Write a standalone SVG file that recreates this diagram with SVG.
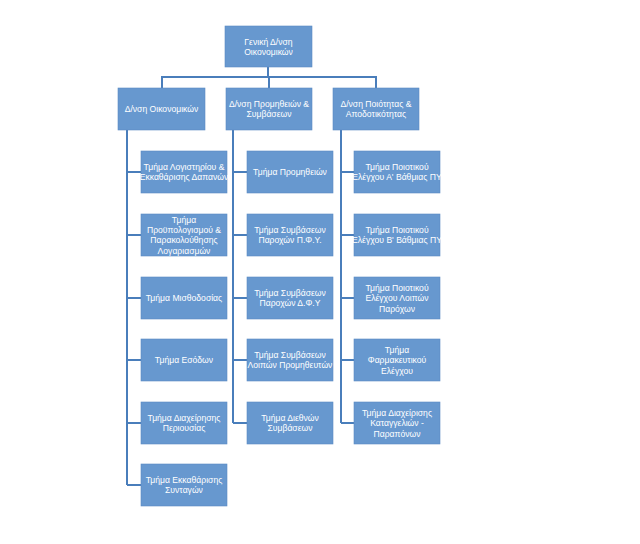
<svg xmlns="http://www.w3.org/2000/svg" width="640" height="544" viewBox="0 0 640 544">
<style>
.b{fill:#6798cf;stroke:#5a8bc3;stroke-width:0.6}
.t{font-family:"Liberation Sans",Arial,sans-serif;font-size:8.6px;fill:#ffffff;text-anchor:middle}
.c{fill:none;stroke:#4a7ebb;stroke-width:2}
</style>
<rect width="640" height="544" fill="#ffffff"/>
<g id="connectors">
<path class="c" d="M268,67V77M162,88V77H376V88M269,77V88"/>
<path class="c" d="M127,130V485M127,172H141M127,235H141M127,298H141M127,360H141M127,423H141M127,485H141"/>
<path class="c" d="M233,130V423M233,172H247M233,235H247M233,298H247M233,360H247M233,423H247"/>
<path class="c" d="M341,130V423M341,172H354M341,235H354M341,298H354M341,360H354M341,423H354"/>
</g>
<g id="n0"><rect class="b" x="225" y="26" width="87" height="41"/><text class="t" x="268.5" y="44.5">Γενική Δ/νση</text><text class="t" x="268.5" y="55">Οικονομικών</text></g>
<g id="n1"><rect class="b" x="118" y="88" width="87" height="42"/><text class="t" x="161.5" y="112">Δ/νση Οικονομικών</text></g>
<g id="n2"><rect class="b" x="226" y="88" width="86" height="42"/><text class="t" x="269" y="106.5">Δ/νση Προμηθειών &amp;</text><text class="t" x="269" y="117">Συμβάσεων</text></g>
<g id="n3"><rect class="b" x="333" y="88" width="86" height="42"/><text class="t" x="376" y="106.5">Δ/νση Ποιότητας &amp;</text><text class="t" x="376" y="117">Αποδοτικότητας</text></g>
<g id="n11"><rect class="b" x="141" y="151" width="86" height="42"/><text class="t" x="184" y="169.5">Τμήμα Λογιστηρίου &amp;</text><text class="t" x="184" y="180">Εκκαθάρισης Δαπανών</text></g>
<g id="n12"><rect class="b" x="141" y="214" width="86" height="42"/><text class="t" x="184" y="222.5">Τμήμα</text><text class="t" x="184" y="232.5">Προϋπολογισμού &amp;</text><text class="t" x="184" y="243">Παρακολούθησης</text><text class="t" x="184" y="253.5">Λογαριασμών</text></g>
<g id="n13"><rect class="b" x="141" y="277" width="86" height="42"/><text class="t" x="184" y="301">Τμήμα Μισθοδοσίας</text></g>
<g id="n14"><rect class="b" x="141" y="339" width="86" height="42"/><text class="t" x="184" y="363">Τμήμα Εσόδων</text></g>
<g id="n15"><rect class="b" x="141" y="402" width="86" height="42"/><text class="t" x="184" y="420.5">Τμήμα Διαχείρησης</text><text class="t" x="184" y="431">Περιουσίας</text></g>
<g id="n16"><rect class="b" x="141" y="464" width="86" height="42"/><text class="t" x="184" y="482.5">Τμήμα Εκκαθάρισης</text><text class="t" x="184" y="493">Συνταγών</text></g>
<g id="n21"><rect class="b" x="247" y="151" width="86" height="42"/><text class="t" x="290" y="175">Τμήμα Προμηθειών</text></g>
<g id="n22"><rect class="b" x="247" y="214" width="86" height="42"/><text class="t" x="290" y="232.5">Τμήμα Συμβάσεων</text><text class="t" x="290" y="243">Παροχών Π.Φ.Υ.</text></g>
<g id="n23"><rect class="b" x="247" y="277" width="86" height="42"/><text class="t" x="290" y="295.5">Τμήμα Συμβάσεων</text><text class="t" x="290" y="306">Παροχών Δ.Φ.Υ</text></g>
<g id="n24"><rect class="b" x="247" y="339" width="86" height="42"/><text class="t" x="290" y="357.5">Τμήμα Συμβάσεων</text><text class="t" x="290" y="368">Λοιπών Προμηθευτών</text></g>
<g id="n25"><rect class="b" x="247" y="402" width="86" height="42"/><text class="t" x="290" y="420.5">Τμήμα Διεθνών</text><text class="t" x="290" y="431">Συμβάσεων</text></g>
<g id="n31"><rect class="b" x="354" y="151" width="86" height="42"/><text class="t" x="397" y="169.5">Τμήμα Ποιοτικού</text><text class="t" x="397" y="180">Ελέγχου Α' Βάθμιας ΠΥ</text></g>
<g id="n32"><rect class="b" x="354" y="214" width="86" height="42"/><text class="t" x="397" y="232.5">Τμήμα Ποιοτικού</text><text class="t" x="397" y="243">Ελέγχου Β' Βάθμιας ΠΥ</text></g>
<g id="n33"><rect class="b" x="354" y="277" width="86" height="42"/><text class="t" x="397" y="290.5">Τμήμα Ποιοτικού</text><text class="t" x="397" y="301">Ελέγχου Λοιπών</text><text class="t" x="397" y="311.5">Παρόχων</text></g>
<g id="n34"><rect class="b" x="354" y="339" width="86" height="42"/><text class="t" x="397" y="352.5">Τμήμα</text><text class="t" x="397" y="363">Φαρμακευτικού</text><text class="t" x="397" y="373.5">Ελέγχου</text></g>
<g id="n35"><rect class="b" x="354" y="402" width="86" height="42"/><text class="t" x="397" y="415.5">Τμήμα Διαχείρισης</text><text class="t" x="397" y="426">Καταγγελιών -</text><text class="t" x="397" y="436.5">Παραπόνων</text></g>
</svg>
